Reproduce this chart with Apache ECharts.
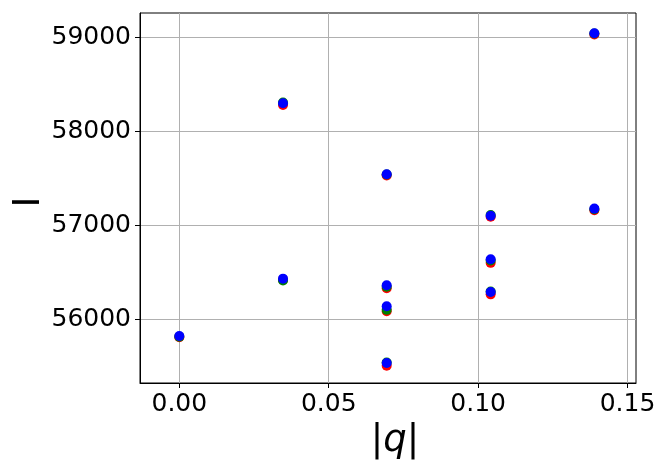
<!DOCTYPE html>
<html>
<head>
<meta charset="utf-8">
<script src="https://cdn.jsdelivr.net/npm/echarts@6/dist/echarts.min.js"></script>
<style>html,body{margin:0;padding:0;background:#fff}#c{width:665px;height:471px}</style>
</head>
<body>
<div id="c"></div>
<script>
const qValues = [0, 0.0347, 0.0347, 0.0694, 0.0694, 0.0694, 0.0694, 0.1042, 0.1042, 0.1042, 0.1389, 0.1389];
const redI   = [55810, 58280, 56420, 57530, 56330, 56085, 55505, 57090, 56600, 56265, 59030, 57160];
const greenI = [55815, 58305, 56412, 57540, 56345, 56100, 55540, 57108, 56625, 56295, 59040, 57170];
const blueI  = [55822, 58298, 56432, 57543, 56362, 56138, 55535, 57102, 56638, 56290, 59043, 57177];
const xTicks = [0, 0.05, 0.10, 0.15];
const xTickLabels = ['0.00', '0.05', '0.10', '0.15'];
const yTicks = [56000, 57000, 58000, 59000];
const yTickLabels = ['56000', '57000', '58000', '59000'];

function pairs(ys) { return qValues.map((q, i) => [q, ys[i]]); }
function lab(ticks, labels) {
  return v => { const k = ticks.findIndex(t => Math.abs(t - v) < 1e-6); return k >= 0 ? labels[k] : ''; };
}

const chart = echarts.init(document.getElementById('c'), null, {renderer: 'canvas'});
const font = 'DejaVu Sans';
chart.setOption({
  animation: false,
  grid: {left: 140, top: 13, width: 496, height: 370, show: true, borderColor: '#000', borderWidth: 1,
    backgroundColor: 'transparent', containLabel: false, outerBoundsMode: 'none'},
  xAxis: {
    type: 'value', min: -0.01316, max: 0.15284,
    name: '|{i|q}|', nameLocation: 'middle', nameGap: 40, nameMoveOverlap: false,
    nameTextStyle: {fontFamily: font, fontSize: 37, color: '#000', padding: [0, 0, 0, 14],
      rich: {i: {fontFamily: font, fontStyle: 'italic', fontSize: 37, color: '#000'}}},
    axisLine: {show: true, onZero: false, lineStyle: {color: '#000', width: 1}},
    axisTick: {show: true, inside: false, length: 5, lineStyle: {color: '#000', width: 1}, customValues: xTicks},
    axisLabel: {customValues: xTicks, fontFamily: font, fontSize: 25, color: '#000', margin: 9,
      formatter: lab(xTicks, xTickLabels)},
    splitLine: {show: true, lineStyle: {color: '#b0b0b0', width: 1}}
  },
  yAxis: {
    type: 'value', min: 55322, max: 59258,
    name: 'I', nameLocation: 'middle', nameGap: 92, nameRotate: 90, nameMoveOverlap: false,
    nameTextStyle: {fontFamily: font, fontSize: 37, color: '#000', padding: [0, 8, 0, 0]},
    axisLine: {show: true, onZero: false, lineStyle: {color: '#000', width: 1}},
    axisTick: {show: true, inside: false, length: 5, lineStyle: {color: '#000', width: 1}, customValues: yTicks},
    axisLabel: {customValues: yTicks, fontFamily: font, fontSize: 25, color: '#000', margin: 9,
      formatter: lab(yTicks, yTickLabels)},
    splitLine: {show: true, lineStyle: {color: '#b0b0b0', width: 1}}
  },
  series: [
    {type: 'scatter', data: pairs(redI), symbol: 'circle', symbolSize: 10, itemStyle: {color: '#ff0000', opacity: 1}, z: 2},
    {type: 'scatter', data: pairs(greenI), symbol: 'circle', symbolSize: 10, itemStyle: {color: '#008000', opacity: 1}, z: 3},
    {type: 'scatter', data: pairs(blueI), symbol: 'circle', symbolSize: 10, itemStyle: {color: '#0000ff', opacity: 1}, z: 4}
  ]
});
</script>
</body>
</html>
